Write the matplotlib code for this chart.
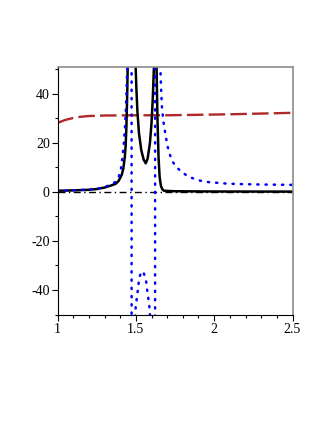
import numpy as np
import matplotlib.pyplot as plt
from matplotlib.ticker import MultipleLocator, FixedLocator

plt.rcParams['font.family'] = ['Liberation Serif', 'DejaVu Serif']
plt.rcParams['axes.unicode_minus'] = False

# values
red_x = [1.0, 1.05, 1.1, 1.15, 1.2, 1.3, 1.5, 1.7, 1.9, 2.1, 2.3, 2.5]
red_y = [28.2, 29.4, 30.2, 30.7, 31.0, 31.2, 31.3, 31.3, 31.5, 31.7, 32.0, 32.3]

black_x = [1.0, 1.1, 1.2, 1.25, 1.3, 1.34, 1.37, 1.39, 1.41, 1.42, 1.43, 1.435,
           1.44, 1.445, 1.45, 1.46, 1.475, 1.49, 1.497, 1.503, 1.51, 1.52, 1.535,
           1.55, 1.563, 1.575, 1.59, 1.6, 1.608, 1.615, 1.622, 1.628, 1.632,
           1.638, 1.645, 1.652, 1.66, 1.67, 1.68, 1.75, 2.0, 2.5]
black_y = [0.5, 0.65, 0.9, 1.2, 1.8, 2.6, 3.3, 4.5, 7.0, 9.5, 14.5, 19,
           27, 40, 58, 90, 110, 75, 55, 43, 33, 24, 17,
           13.2, 11.7, 13.5, 20, 28, 38, 50, 75, 75, 52,
           30, 14, 6, 2.5, 1.0, 0.5, 0.3, 0.2, 0.15]

blue_x = [1.0, 1.1, 1.2, 1.25, 1.3, 1.34, 1.373, 1.39, 1.405, 1.416, 1.425, 1.432,
          1.438, 1.445, 1.455, 1.465, 1.472, 1.474, 1.485, 1.494, 1.499, 1.505,
          1.512, 1.522, 1.535, 1.548, 1.565, 1.576, 1.584, 1.59, 1.6, 1.612,
          1.622, 1.624, 1.64, 1.652, 1.661, 1.667, 1.676, 1.686, 1.701, 1.714,
          1.731, 1.757, 1.793, 1.836, 1.883, 1.932, 1.981, 2.032, 2.081, 2.187,
          2.294, 2.5]
blue_y = [0.5, 0.7, 1.0, 1.3, 2.0, 3.0, 4.2, 6, 9.5, 15, 21, 28,
          36, 50, 75, 140, 600, -600, -120, -60, -47, -44,
          -40.5, -35, -32.5, -32.6, -36, -42, -45, -50, -65, -120,
          -600, 600, 140, 60, 42.3, 34.2, 28.7, 24.7, 19.0, 15.9,
          12.7, 10.3, 8.1, 6.3, 5.1, 4.3, 3.9, 3.7, 3.4, 3.2,
          3.05, 2.9]

x_ticks = [1, 1.5, 2, 2.5]
x_tick_labels = ['1', '1.5', '2', '2.5']
y_ticks = [-40, -20, 0, 20, 40]
y_tick_labels = ['-40', '-20', '0', '20', '40']

fig = plt.figure(figsize=(3.27, 4.23), dpi=100)
ax = fig.add_axes([57.5 / 327, 1 - 315 / 423, 235 / 327, 248 / 423])

# zero line
ax.plot([1, 2.5], [0, 0], color='black', lw=1.0, dashes=(5, 2.5, 1, 2.5))

ax.plot(red_x, red_y, color='#b02828', lw=1.7, dashes=(7, 2.2))
ax.plot(black_x, black_y, color='black', lw=1.8, solid_joinstyle='round')
ax.plot(blue_x, blue_y, color='#0000ff', lw=1.8, dashes=(0.5, 2.8),
        dash_capstyle='round')

ax.set_xlim(1, 2.5)
ax.set_ylim(-50.2, 51)

ax.xaxis.set_major_locator(FixedLocator(x_ticks))
ax.set_xticklabels(x_tick_labels)
ax.yaxis.set_major_locator(FixedLocator(y_ticks))
ax.set_yticklabels(y_tick_labels)
ax.xaxis.set_minor_locator(MultipleLocator(0.1))
ax.yaxis.set_minor_locator(MultipleLocator(10))

ax.tick_params(which='major', direction='out', length=4, width=0.8,
               labelsize=10, pad=1.5)
ax.tick_params(which='minor', direction='out', length=2, width=0.8)
ax.tick_params(top=False, right=False, which='both')

for side in ['top', 'right']:
    ax.spines[side].set_color('#8c8c8c')
    ax.spines[side].set_linewidth(1.2)
for side in ['left', 'bottom']:
    ax.spines[side].set_color('black')
    ax.spines[side].set_linewidth(0.8)

fig.savefig('out.png', dpi=100)
